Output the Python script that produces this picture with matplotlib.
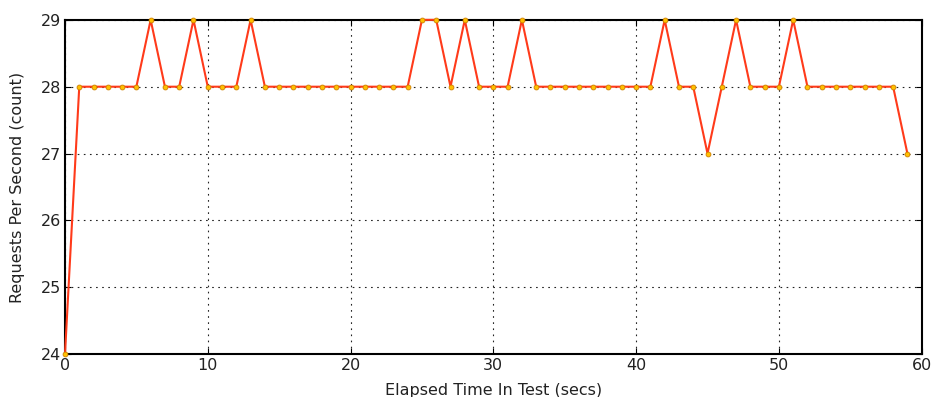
import matplotlib
matplotlib.use("Agg")
import matplotlib.pyplot as plt

# requests per second, one sample per elapsed second
elapsed_secs = list(range(60))
requests_per_sec = [
    24, 28, 28, 28, 28, 28, 29, 28, 28, 29,
    28, 28, 28, 29, 28, 28, 28, 28, 28, 28,
    28, 28, 28, 28, 28, 29, 29, 28, 29, 28,
    28, 28, 29, 28, 28, 28, 28, 28, 28, 28,
    28, 28, 29, 28, 28, 27, 28, 29, 28, 28,
    28, 29, 28, 28, 28, 28, 28, 28, 28, 27,
]
x_ticks = [0, 10, 20, 30, 40, 50, 60]
y_ticks = [24, 25, 26, 27, 28, 29]

LINE_COLOR = "#ff3a1a"
MARKER_FACE = "#ffc000"
MARKER_EDGE = "#d08000"

fig = plt.figure(figsize=(9.31, 3.97), dpi=100)
ax = fig.add_axes([0.0698, 0.108, 0.9202, 0.842])

ax.plot(elapsed_secs, requests_per_sec, color=LINE_COLOR, linewidth=1.5,
        marker="o", markersize=3.5, markerfacecolor=MARKER_FACE,
        markeredgecolor=MARKER_EDGE, markeredgewidth=0.6, zorder=3,
        clip_on=False)

ax.set_xlim(0, 60)
ax.set_ylim(24, 29)
ax.set_xticks(x_ticks)
ax.set_yticks(y_ticks)
ax.grid(True, color="#222222", linestyle=(0, (1.5, 4)), linewidth=0.8)
ax.tick_params(direction="in", top=True, right=True, labelsize=11.5,
               length=4, pad=3, labelcolor="#222222")
for side in ax.spines.values():
    side.set_linewidth(1.5)

ax.set_xlabel("Elapsed Time In Test (secs)", fontsize=11.5, labelpad=7,
              color="#222222")
ax.set_ylabel("Requests Per Second (count)", fontsize=11.5, labelpad=11,
              color="#222222")

fig.savefig("out.png", dpi=100, facecolor="white")
